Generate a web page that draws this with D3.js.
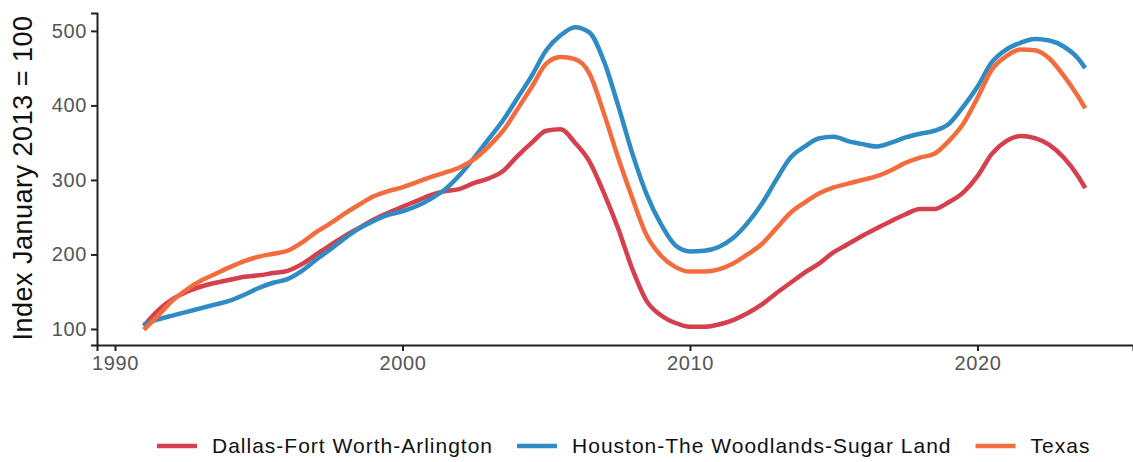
<!DOCTYPE html>
<html>
<head>
<meta charset="utf-8">
<script src="https://cdn.jsdelivr.net/npm/d3@7/dist/d3.min.js"></script>
<style>
  body { margin: 0; background: #fff; }
  svg { font-family: "Liberation Sans", Arial, sans-serif; }
</style>
</head>
<body>
<div id="chart"></div>
<script>
// half-year steps, last point is 2023 Q4
var years = [1991, 1991.5, 1992, 1992.5, 1993, 1993.5, 1994, 1994.5, 1995, 1995.5,
  1996, 1996.5, 1997, 1997.5, 1998, 1998.5, 1999, 1999.5, 2000, 2000.5,
  2001, 2001.5, 2002, 2002.5, 2003, 2003.5, 2004, 2004.5, 2005, 2005.5,
  2006, 2006.5, 2007, 2007.5, 2008, 2008.5, 2009, 2009.5, 2010, 2010.5,
  2011, 2011.5, 2012, 2012.5, 2013, 2013.5, 2014, 2014.5, 2015, 2015.5,
  2016, 2016.5, 2017, 2017.5, 2018, 2018.5, 2019, 2019.5, 2020, 2020.5,
  2021, 2021.5, 2022, 2022.5, 2023, 2023.5, 2023.75];

var dallas = [104, 125, 140, 150, 157, 162, 166, 170, 172, 175,
  178, 187, 200, 213, 225, 236, 247, 256, 264, 272,
  280, 285, 288, 296, 302, 312, 332, 350, 366, 368,
  350, 325, 283, 235, 180, 137, 118, 108, 103, 103,
  106, 112, 121, 133, 148, 162, 176, 188, 203, 214,
  225, 235, 245, 254, 261, 261, 270, 283, 305, 335,
  352, 359, 356, 347, 330, 305, 289];

var houston = [106, 113, 118, 123, 128, 133, 138, 146, 155, 162,
  167, 178, 193, 207, 222, 235, 245, 253, 258, 265,
  275, 288, 307, 330, 355, 380, 410, 440, 474, 494,
  505, 498, 460, 400, 335, 280, 240, 212, 204, 205,
  210, 222, 242, 268, 300, 330, 345, 356, 358, 352,
  348, 345, 350, 357, 362, 366, 375, 398, 425, 458,
  475, 484, 489, 487, 479, 463, 450];

var texas = [99, 118, 138, 153, 165, 174, 183, 191, 197, 201,
  205, 216, 230, 242, 255, 267, 278, 285, 290, 297,
  304, 310, 317, 328, 345, 366, 395, 425, 456, 465,
  462, 443, 390, 330, 275, 225, 198, 183, 177, 177,
  180, 188, 200, 214, 235, 256, 270, 282, 290, 295,
  300, 305, 313, 323, 330, 335, 352, 375, 410, 448,
  466, 475, 474, 463, 440, 412, 396];

var seriesNames = ["Dallas-Fort Worth-Arlington", "Houston-The Woodlands-Sugar Land", "Texas"];
var seriesColors = ["#d5404f", "#2e8bc3", "#f36c3e"];
var xTicks = [1990, 2000, 2010, 2020];
var yTicks = [100, 200, 300, 400, 500];

var width = 1133, height = 462;

var svg = d3.select("#chart").append("svg")
  .attr("width", width)
  .attr("height", height);

var x = d3.scaleLinear().domain([1989.374, 2025.41]).range([97, 1133]);
var y = d3.scaleLinear().domain([78.5, 524]).range([345, 13]);

// y axis
var yAxis = svg.append("g")
  .attr("transform", "translate(97,0)")
  .call(d3.axisLeft(y).tickValues(yTicks).tickSize(6).tickPadding(4));
// x axis
var xAxis = svg.append("g")
  .attr("transform", "translate(0,345)")
  .call(d3.axisBottom(x).tickValues(xTicks).tickFormat(d3.format("d")).tickSize(6).tickPadding(5));

[yAxis, xAxis].forEach(function (g) {
  g.select(".domain").attr("stroke", "#222").attr("stroke-width", 2);
  g.selectAll(".tick line").attr("stroke", "#222").attr("stroke-width", 2);
  g.selectAll(".tick text").attr("fill", "#555")
    .style("font-size", "20px").style("letter-spacing", "0.6px");
});

// y axis title
svg.append("text")
  .attr("transform", "translate(32,178) rotate(-90)")
  .attr("text-anchor", "middle")
  .style("font-size", "27px")
  .style("letter-spacing", "0.5px")
  .attr("fill", "#111")
  .text("Index January 2013 = 100");

var line = d3.line()
  .x(function (d) { return x(d[0]); })
  .y(function (d) { return y(d[1]); })
  .curve(d3.curveMonotoneX);

[dallas, houston, texas].forEach(function (vals, i) {
  var pts = years.map(function (yr, j) { return [yr, vals[j]]; });
  svg.append("path")
    .datum(pts)
    .attr("fill", "none")
    .attr("stroke", seriesColors[i])
    .attr("stroke-width", 4.5)
    .attr("d", line);
});

// legend
var legend = svg.append("g").attr("transform", "translate(157,446)");
var cx = 0;
seriesNames.forEach(function (name, i) {
  legend.append("line")
    .attr("x1", cx).attr("x2", cx + 40)
    .attr("y1", 0).attr("y2", 0)
    .attr("stroke", seriesColors[i])
    .attr("stroke-width", 4.5);
  var t = legend.append("text")
    .attr("x", cx + 55)
    .attr("y", 7)
    .style("font-size", "21px")
    .style("letter-spacing", "1px")
    .attr("fill", "#111")
    .text(name);
  cx += 55 + t.node().getComputedTextLength() + 24;
});
</script>
</body>
</html>
